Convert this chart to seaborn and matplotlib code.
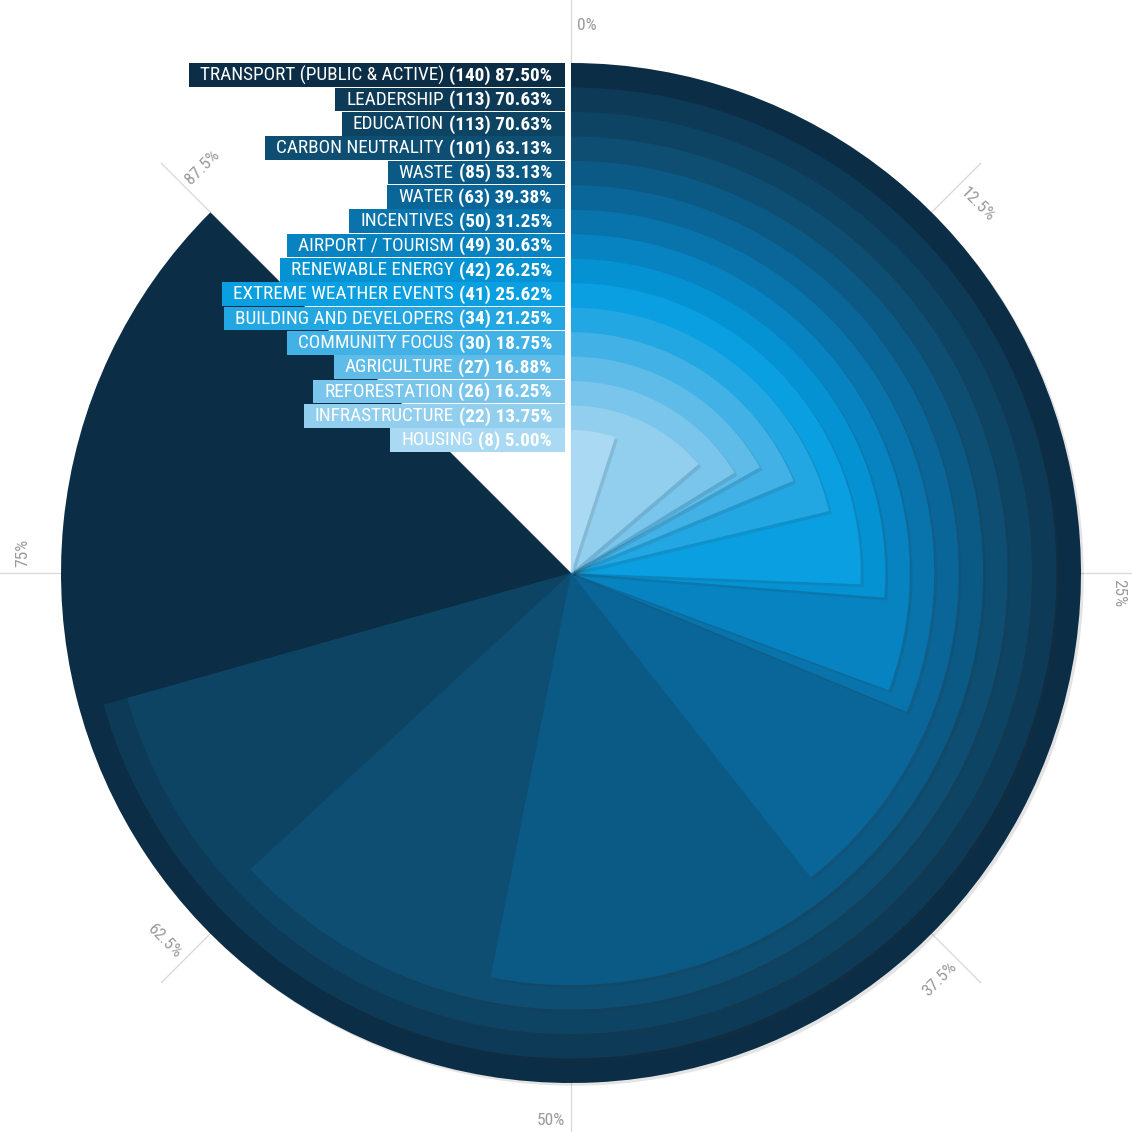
import numpy as np
import matplotlib.pyplot as plt
import matplotlib.patheffects as pe
import seaborn as sns

sns.set_theme(style="white")
plt.rcParams['font.family'] = ['Roboto Condensed', 'Liberation Sans Narrow', 'Roboto', 'DejaVu Sans']

# Data (sorted by count, largest first)
categories = ["TRANSPORT (PUBLIC & ACTIVE)", "LEADERSHIP", "EDUCATION", "CARBON NEUTRALITY",
              "WASTE", "WATER", "INCENTIVES", "AIRPORT / TOURISM", "RENEWABLE ENERGY",
              "EXTREME WEATHER EVENTS", "BUILDING AND DEVELOPERS", "COMMUNITY FOCUS",
              "AGRICULTURE", "REFORESTATION", "INFRASTRUCTURE", "HOUSING"]
counts = [140, 113, 113, 101, 85, 63, 50, 49, 42, 41, 34, 30, 27, 26, 22, 8]
percents = [87.50, 70.63, 70.63, 63.13, 53.13, 39.38, 31.25, 30.63, 26.25,
            25.62, 21.25, 18.75, 16.88, 16.25, 13.75, 5.00]
tick_vals = [0, 12.5, 25, 37.5, 50, 62.5, 75, 87.5]

n = len(categories)
colors = sns.color_palette(["#0b2d45", "#0d3a57", "#0d4464", "#0d4e72", "#0b5a86", "#0a6698",
                            "#0874ab", "#0683c0", "#0592d2", "#0a9fe0", "#22a7e3", "#41b1e6",
                            "#5fbce9", "#7ac5ec", "#92cfee", "#aad9f3"])

W = 1132
fig = plt.figure(figsize=(W / 100, W / 100), dpi=100)
fig.patch.set_facecolor("white")

# polar axes, centre in pixels
cx, cy = 571, 573
R = 580
ax = fig.add_axes([(cx - R) / W, (W - cy - R) / W, 2 * R / W, 2 * R / W], projection="polar")
ax.set_theta_zero_location("N")
ax.set_theta_direction(-1)
ax.set_ylim(0, R)
ax.patch.set_alpha(0)
ax.spines["polar"].set_visible(False)
ax.set_yticks([])
ax.set_xticks(np.deg2rad(np.array(tick_vals) * 3.6))
ax.set_xticklabels([])
ax.grid(axis="x", color="#d8d8d8", lw=0.9)
ax.grid(axis="y", visible=False)
ax.set_axisbelow(True)

radii = np.linspace(510, 143, n)
shadow = [pe.SimplePatchShadow(offset=(2, -2), shadow_rgbFace="#333333", alpha=0.13), pe.Normal()]
for i in range(n):
    ax.bar(0, radii[i], width=np.deg2rad(percents[i] * 3.6), bottom=0, align="edge",
           color=colors[i], edgecolor="none", zorder=3 + i, path_effects=shadow)

# percent labels round the circle
for v in tick_vals:
    ang = v * 3.6
    rot = {0: 0, 12.5: -45, 25: -90, 37.5: 45, 50: 0, 62.5: -45, 75: 90, 87.5: 45}[v]
    ha = "right" if v in (37.5, 50, 62.5) else "left"
    ax.text(np.deg2rad(ang + 0.6), 548, f"{v:g}%", rotation=rot, rotation_mode="anchor",
            ha=ha, va="center", fontsize=12.5, color="#9a9a9a")

# label boxes in pixel space
lab = fig.add_axes([0, 0, 1, 1])
lab.set_xlim(0, W)
lab.set_ylim(W, 0)
lab.axis("off")
lab.patch.set_alpha(0)

fig.canvas.draw()
renderer = fig.canvas.get_renderer()
y0, pitch = 75.5, 24.33
x_right = 552
for i in range(n):
    y = y0 + i * pitch
    t_val = lab.text(x_right, y, f"({counts[i]}) {percents[i]:.2f}%", ha="right", va="center",
                     fontsize=13.9, fontweight="bold", color="white", zorder=5)
    bw = t_val.get_window_extent(renderer).width
    t_name = lab.text(x_right - bw - 5, y, categories[i], ha="right", va="center",
                      fontsize=13.9, color="white", zorder=5)
    nw = t_name.get_window_extent(renderer).width
    left = x_right - bw - 5 - nw - 11
    lab.add_patch(plt.Rectangle((left, y - pitch / 2), 565 - left, pitch - 0.6,
                                color=colors[i], lw=0, zorder=4))

fig.savefig("out.png", dpi=100, facecolor="white")
